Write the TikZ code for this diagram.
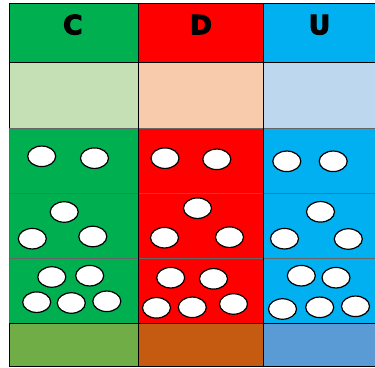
\documentclass[tikz,border=0pt]{standalone}
\usepackage{fontspec}
\usetikzlibrary{shapes.geometric}
\newfontfamily\blk{DejaVu Sans Bold}[FakeBold=4]
\definecolor{gC}{HTML}{00B050}
\definecolor{rD}{HTML}{FF0000}
\definecolor{bU}{HTML}{00B0F0}
\definecolor{gL}{HTML}{C5E0B4}
\definecolor{rL}{HTML}{F8CBAD}
\definecolor{bL}{HTML}{BDD7EE}
\definecolor{gB}{HTML}{70AD47}
\definecolor{rB}{HTML}{C55A11}
\definecolor{bB}{HTML}{5B9BD5}
\tikzset{
  cellbox/.style={draw=black, line width=0.9pt},
  dotcellbox/.style={draw=black!60, line width=1pt},
  pip/.style={ellipse, draw=black, fill=white, line width=1.2pt, minimum width=28pt, minimum height=20.5pt, inner sep=0pt},
  letter/.style={font=\blk\fontsize{26.5}{26.5}\selectfont, inner sep=0pt, anchor=base}
}
\begin{document}
\begin{tikzpicture}[x=1pt,y=-1pt]
\useasboundingbox (0,0) rectangle (375,367);
% columns: C 9-138, D 138-263, U 263-380
\foreach \n/\xa/\xb/\ca/\cb/\cc in {C/9/138/gC/gL/gB, D/138/263/rD/rL/rB, U/263/380/bU/bL/bB}{
  \path[fill=\ca, cellbox] (\xa,3) rectangle (\xb,62);
  \path[fill=\cb, cellbox] (\xa,62) rectangle (\xb,128);
  \path[fill=\ca, dotcellbox] (\xa,128) rectangle (\xb,193);
  \path[fill=\ca, dotcellbox] (\xa,193) rectangle (\xb,258);
  \path[fill=\ca, dotcellbox] (\xa,258) rectangle (\xb,323);
  \path[fill=\cc, cellbox] (\xa,323) rectangle (\xb,366);
}
\draw[black, line width=0.9pt] (138,128) -- (138,323) (263,128) -- (263,323);
\node[letter] (lC) at (72.8,34.3) {C};
\node[letter] (lD) at (201,34.3) {D};
\node[letter] (lU) at (319.5,34.3) {U};
% row of two
\node[pip] (c2a) at (41.7,156.3) {};
\node[pip] (c2b) at (94.5,158.2) {};
\node[pip] (d2a) at (165,158.2) {};
\node[pip] (d2b) at (216.8,159.3) {};
\node[pip] (u2a) at (286.8,161.3) {};
\node[pip] (u2b) at (333.2,161.3) {};
% row of three
\node[pip] (c3a) at (64.2,212) {};
\node[pip] (c3b) at (32.3,238.7) {};
\node[pip] (c3c) at (92.8,236.5) {};
\node[pip] (d3a) at (197.5,208.2) {};
\node[pip] (d3b) at (164.5,237.7) {};
\node[pip] (d3c) at (229.5,237.2) {};
\node[pip] (u3a) at (320.5,211.8) {};
\node[pip] (u3b) at (284.5,238.7) {};
\node[pip] (u3c) at (348.3,239) {};
% row of five
\node[pip] (c5a) at (51.8,277) {};
\node[pip] (c5b) at (89.7,275.7) {};
\node[pip] (c5c) at (36.7,302.2) {};
\node[pip] (c5d) at (71.3,303) {};
\node[pip] (c5e) at (106.8,301.3) {};
\node[pip] (d5a) at (170.7,277.7) {};
\node[pip] (d5b) at (213.5,278.8) {};
\node[pip] (d5c) at (156.5,307.8) {};
\node[pip] (d5d) at (192.3,307.3) {};
\node[pip] (d5e) at (233.5,304) {};
\node[pip] (u5a) at (301.3,275.7) {};
\node[pip] (u5b) at (336,277.7) {};
\node[pip] (u5c) at (282.5,309) {};
\node[pip] (u5d) at (319.7,307.3) {};
\node[pip] (u5e) at (355.5,306.3) {};
\end{tikzpicture}
\end{document}
